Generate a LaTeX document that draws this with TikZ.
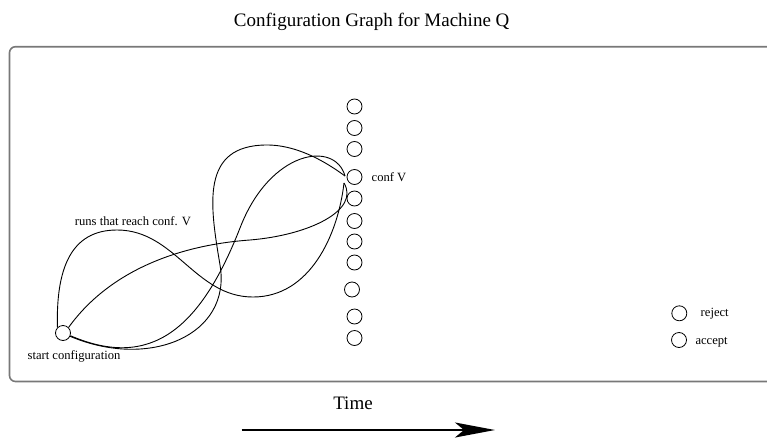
\documentclass[tikz,border=0pt]{standalone}
\usepackage{fontspec}
\setmainfont{Liberation Serif}
\usetikzlibrary{arrows.meta}

\definecolor{framegray}{gray}{0.47}
\tikzset{
  cfg/.style={circle,draw,line width=0.8pt,minimum size=15pt,inner sep=0pt},
  lbl/.style={font=\fontsize{12.6}{15}\selectfont,inner sep=0pt},
  big/.style={font=\fontsize{19}{23}\selectfont,inner sep=0pt},
  run/.style={line width=0.9pt}
}

\begin{document}
\begin{tikzpicture}[x=1pt,y=-1pt]
    \useasboundingbox (0,0) rectangle (767,439);
    \draw[framegray,line width=1.6pt,rounded corners=6pt] (9.5,46.7) rectangle (790,381.5);
    \node[big,anchor=base] (title) at (371.7,26.7) {Configuration Graph for Machine Q};

    \node[cfg] (s) at (63,333) {};
    \node[lbl,anchor=base] (sl) at (74,359.5) {start configuration};
    \node[lbl,anchor=base] (rl) at (133,225) {runs that reach conf. V};

    \node[cfg] (c1) at (354.5,106.5) {};
    \node[cfg] (c2) at (354.5,128) {};
    \node[cfg] (c3) at (354.5,149) {};
    \node[cfg] (v) at (354.5,177) {};
    \node[cfg] (c5) at (354.5,198.5) {};
    \node[cfg] (c6) at (354.5,221) {};
    \node[cfg] (c7) at (354.5,241.5) {};
    \node[cfg] (c8) at (354.5,262.5) {};
    \node[cfg] (c9) at (352,289.5) {};
    \node[cfg] (c10) at (354.5,316.5) {};
    \node[cfg] (c11) at (354.5,338) {};
    \node[lbl,anchor=base west] (vl) at (371.5,181.5) {conf V};

    \node[cfg] (rj) at (679.3,313.3) {};
    \node[cfg] (ac) at (679,340) {};
    \node[lbl,anchor=base west] (rjl) at (700.5,316.5) {reject};
    \node[lbl,anchor=base west] (acl) at (695.3,344) {accept};

    % where the runs meet conf V
    \coordinate (vu) at (345,176);
    \coordinate (vd) at (344,183);

    \draw[run] (s.135) .. controls (56,270) and (70,230) .. (117,230)
        .. controls (175,230) and (195,297) .. (253,297)
        .. controls (310,297) and (338,235) .. (vd);
    \draw[run] (s.-25) .. controls (150,370) and (232,335) .. (220,265)
        .. controls (210,205) and (200,145) .. (267,145)
        .. controls (300,145) and (330,165) .. (vu);
    \draw[run] (s.-20) .. controls (150,370) and (200,330) .. (240,228)
        .. controls (270,150) and (335,140) .. (vu);
    \draw[run] (s.45) .. controls (110,270) and (180,245) .. (250,240)
        .. controls (310,235) and (360,210) .. (vd);

    % time axis
    \node[big,anchor=base] (time) at (353,409.3) {Time};
    \coordinate (ta) at (241.7,430);
    \coordinate (tb) at (495,430);
    \draw[line width=2pt,-{Stealth[length=40pt,width=15pt,inset=9pt]}] (ta) -- (tb);
\end{tikzpicture}
\end{document}
